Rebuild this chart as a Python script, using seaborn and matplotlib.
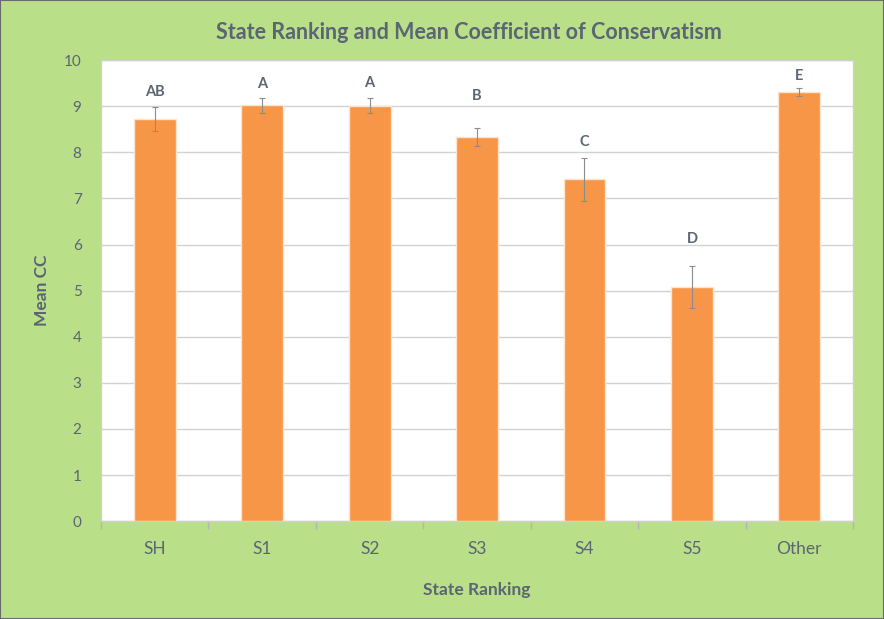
import numpy as np
import pandas as pd
import seaborn as sns
import matplotlib.pyplot as plt

categories = ["SH", "S1", "S2", "S3", "S4", "S5", "Other"]
mean_cc = [8.72, 9.02, 9.01, 8.33, 7.41, 5.08, 9.31]
err = [0.26, 0.16, 0.16, 0.19, 0.47, 0.46, 0.09]
letters = ["AB", "A", "A", "B", "C", "D", "E"]
letter_y = [9.30, 9.48, 9.51, 9.21, 8.23, 6.12, 9.66]

df = pd.DataFrame({"rank": categories, "cc": mean_cc})

sns.set_theme(style="white")
plt.rcParams["font.family"] = ["Lato", "DejaVu Sans"]

text_col = "#5b6573"
green = "#badf89"

fig = plt.figure(figsize=(8.84, 6.19), dpi=100, facecolor=green)
ax = fig.add_axes([0.1143, 0.158, 0.8507, 0.745])
ax.set_facecolor("white")

sns.barplot(data=df, x="rank", y="cc", color="#f79646", width=0.39,
            saturation=1, edgecolor="#fbe3d0", linewidth=1, ax=ax, zorder=3)
ax.errorbar(range(len(categories)), mean_cc, yerr=err, fmt="none",
            ecolor="#8c8c8c", elinewidth=0.8, capsize=2.5, capthick=0.8, zorder=4)

for i, (lab, y) in enumerate(zip(letters, letter_y)):
    ax.text(i, y, lab, ha="center", va="center", fontsize=10.5,
            fontweight="bold", color=text_col, zorder=5)

ax.set_ylim(0, 10)
ax.set_xlim(-0.5, len(categories) - 0.5)
ax.set_yticks(range(0, 11))
ax.yaxis.grid(True, color="#d2d2d2", linewidth=1, zorder=0)
ax.set_axisbelow(True)

ax.set_xticks(range(len(categories)))
ax.set_xticklabels(categories)
ax.set_xticks(np.arange(-0.5, len(categories), 1), minor=True)
ax.tick_params(axis="x", which="major", length=0, pad=14, labelsize=12.5, labelcolor=text_col)
ax.tick_params(axis="x", which="minor", length=6, width=1, color="#b5b5b5", bottom=True)
ax.tick_params(axis="y", length=0, pad=14, labelsize=11, labelcolor=text_col)

for side, sp in ax.spines.items():
    sp.set_color("#d0d0d0")
    sp.set_linewidth(1)

ax.set_xlabel("State Ranking", fontsize=12.5, fontweight="bold", color=text_col, labelpad=18)
ax.set_ylabel("Mean CC", fontsize=12.5, fontweight="bold", color=text_col, labelpad=10)
fig.text(0.53, 0.947, "State Ranking and Mean Coefficient of Conservatism",
         ha="center", va="center", fontsize=15.5, fontweight="bold", color=text_col)

border = plt.Rectangle((0, 0), 1, 1, transform=fig.transFigure, fill=False,
                       edgecolor="#6b6b6b", linewidth=1.5)
fig.patches.append(border)

fig.savefig("out.png", dpi=100, facecolor=green)
